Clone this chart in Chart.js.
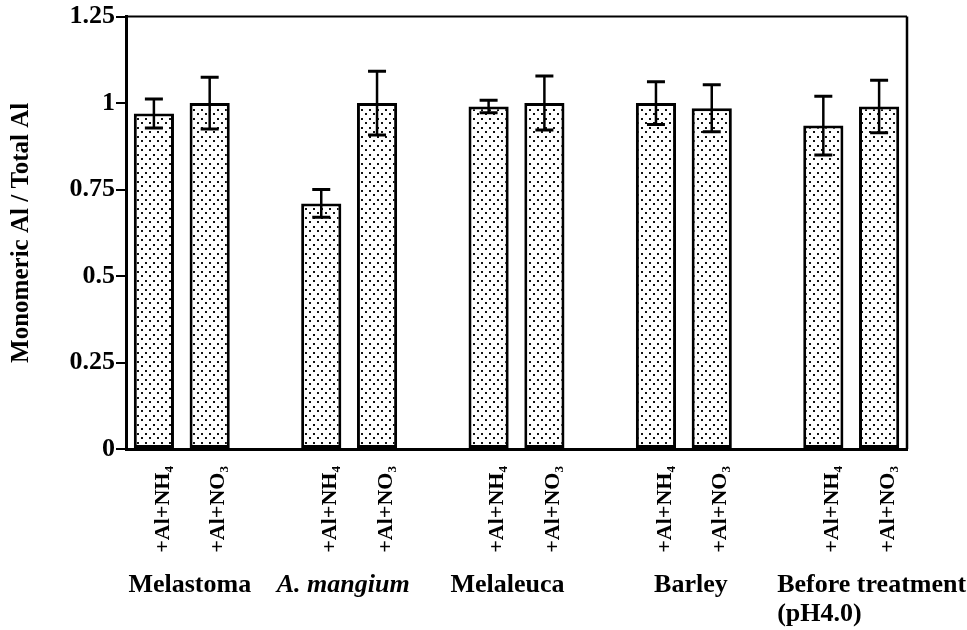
<!DOCTYPE html>
<html>
<head>
<meta charset="utf-8">
<script src="https://cdn.jsdelivr.net/npm/chart.js@4/dist/chart.umd.min.js"></script>
<style>
body { margin: 0; background: #fff; }
</style>
</head>
<body>
<canvas id="chart" width="967" height="630"></canvas>
<script>
// one slot per bar, the blank slots are the gaps between plants
const treatments = ["+Al+NH₄", "+Al+NO₃", "", "+Al+NH₄", "+Al+NO₃", "", "+Al+NH₄", "+Al+NO₃", "", "+Al+NH₄", "+Al+NO₃", "", "+Al+NH₄", "+Al+NO₃"];
const ratios = [0.97, 1.0, null, 0.71, 1.0, null, 0.99, 1.0, null, 1.0, 0.985, null, 0.935, 0.99];
const errors = [0.042, 0.075, null, 0.04, 0.092, null, 0.018, 0.078, null, 0.062, 0.068, null, 0.085, 0.076];
const plants = ["Melastoma", "A. mangium", "Melaleuca", "Barley", "Before treatment"];
const plantNote = "(pH4.0)";
const yTicks = ["0", "0.25", "0.5", "0.75", "1", "1.25"];

const serif = '"Liberation Serif", "Times New Roman", serif';

// dotted fill like the printed figure
function dotPattern() {
    let c = document.createElement("canvas");
    c.width = 8;
    c.height = 9;
    let g = c.getContext("2d");
    g.fillStyle = "#fff";
    g.fillRect(0, 0, 8, 9);
    g.fillStyle = "#111";
    g.fillRect(1, 1, 2, 2);
    g.fillRect(5, 5, 2, 2);
    return g.createPattern(c, "repeat");
}

// error bars (+/- sd)
const errorBars = {
    id: "errorBars",
    afterDatasetsDraw(chart) {
        let ctx = chart.ctx;
        let y = chart.scales.y;
        let meta = chart.getDatasetMeta(0);
        ctx.save();
        ctx.strokeStyle = "#000";
        ctx.lineCap = "butt";
        ratios.forEach((v, i) => {
            if (v == null) return;
            let x = meta.data[i].x;
            let top = y.getPixelForValue(v + errors[i]);
            let bot = y.getPixelForValue(v - errors[i]);
            ctx.lineWidth = 2.5;
            ctx.beginPath();
            ctx.moveTo(x, top);
            ctx.lineTo(x, bot);
            ctx.stroke();
            ctx.lineWidth = 3;
            ctx.beginPath();
            ctx.moveTo(x - 9, top);
            ctx.lineTo(x + 9, top);
            ctx.moveTo(x - 9, bot);
            ctx.lineTo(x + 9, bot);
            ctx.stroke();
        });
        ctx.restore();
    }
};

// top and right side of the frame, plus the plant names under the ticks
const frameAndPlants = {
    id: "frameAndPlants",
    afterDraw(chart) {
        let ctx = chart.ctx;
        let a = chart.chartArea;
        let x = chart.scales.x;
        ctx.save();
        ctx.strokeStyle = "#000";
        ctx.lineWidth = 2;
        ctx.beginPath();
        ctx.moveTo(a.left, a.top);
        ctx.lineTo(a.right, a.top);
        ctx.stroke();
        ctx.lineWidth = 2.5;
        ctx.beginPath();
        ctx.moveTo(a.right, a.top);
        ctx.lineTo(a.right, a.bottom);
        ctx.stroke();

        let shift = [8, -6, -9, 7];
        ctx.fillStyle = "#000";
        ctx.textBaseline = "alphabetic";
        plants.forEach((name, g) => {
            let i = g * 3;
            let mid = (x.getPixelForValue(i) + x.getPixelForValue(i + 1)) / 2;
            ctx.font = (name === "A. mangium" ? "italic bold " : "bold ") + "26px " + serif;
            if (g === plants.length - 1) {
                ctx.textAlign = "left";
                ctx.fillText(name, mid - 74, 592);
                ctx.fillText(plantNote, mid - 74, 621);
            } else {
                ctx.textAlign = "center";
                ctx.fillText(name, mid + shift[g], 592);
            }
        });
        ctx.restore();
    }
};

new Chart(document.getElementById("chart").getContext("2d"), {
    type: "bar",
    data: {
        labels: treatments,
        datasets: [{
            data: ratios,
            backgroundColor: dotPattern(),
            borderColor: "#000",
            borderWidth: 3,
            borderSkipped: false,
            barPercentage: 0.72,
            categoryPercentage: 1
        }]
    },
    options: {
        responsive: false,
        animation: false,
        layout: { padding: { top: 16, right: 60, left: 0, bottom: 0 } },
        plugins: {
            legend: { display: false },
            tooltip: { enabled: false }
        },
        scales: {
            x: {
                offset: true,
                grid: { display: false },
                border: { display: true, color: "#000", width: 3 },
                ticks: {
                    autoSkip: false,
                    minRotation: 90,
                    maxRotation: 90,
                    labelOffset: 9,
                    padding: 9,
                    color: "#000",
                    font: { family: serif, size: 22, weight: "bold" }
                },
                afterFit(scale) { scale.height = 181; }
            },
            y: {
                min: 0,
                max: 1.25,
                grid: {
                    display: true,
                    drawOnChartArea: false,
                    drawTicks: true,
                    tickLength: 10,
                    color: "#000",
                    lineWidth: 2
                },
                border: { display: true, color: "#000", width: 3 },
                ticks: {
                    stepSize: 0.25,
                    padding: 1,
                    color: "#000",
                    font: { family: serif, size: 26, weight: "bold" },
                    callback: (v, i) => yTicks[i]
                },
                title: {
                    display: true,
                    text: "Monomeric Al / Total Al",
                    color: "#000",
                    padding: { top: 7, bottom: 0 },
                    font: { family: serif, size: 25, weight: "bold" }
                },
                afterFit(scale) { scale.width = 126; }
            }
        }
    },
    plugins: [errorBars, frameAndPlants]
});
</script>
</body>
</html>
